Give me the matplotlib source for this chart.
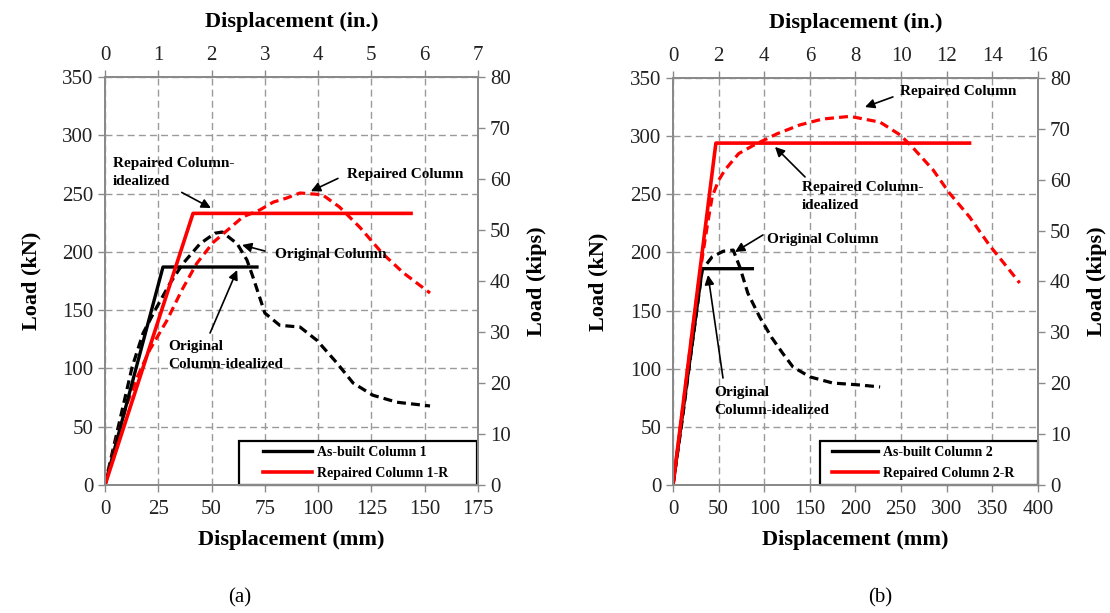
import matplotlib
matplotlib.use("Agg")
import matplotlib.pyplot as plt
from matplotlib.legend_handler import HandlerLine2D
import numpy as np

plt.rcParams['font.family'] = ['Liberation Serif', 'DejaVu Serif']

# ---- panel (a): column 1 ----
a_orig_x = [0, 2.3, 7, 12.7, 17.8, 23.5, 30.5, 36.6, 44.6, 51.6, 55, 62, 66.6, 69.5,
            75, 82, 91.5, 99.5, 108.8, 116.4, 125.7, 137, 152.5]
a_orig_y = [0, 19, 56, 101, 130, 150, 173, 190, 207, 216, 217, 207, 193, 178,
            147.5, 137, 135.5, 124, 104.7, 87.5, 77, 71, 67.8]
a_rep_x = [0, 5, 10, 15, 21, 29, 36, 43, 50.7, 57.7, 64.7, 72.7, 79, 85, 91.5, 102,
           110, 119.6, 130, 140, 152.5]
a_rep_y = [0, 36, 68, 92, 116, 141, 167, 190, 208, 219, 230, 236, 242.7, 246, 250.5, 249,
           238.5, 221, 199, 182, 164.7]
a_orig_ideal_x = [0, 27.2, 71.3]
a_orig_ideal_y = [0, 187, 187]
a_rep_ideal_x = [0, 41.3, 143.6]
a_rep_ideal_y = [0, 233, 233]

# ---- panel (b): column 2 ----
b_orig_x = [0, 10, 20, 32, 42.7, 55, 66, 73.4, 82, 95, 108, 120, 131.5, 150, 175, 205, 227]
b_orig_y = [0, 55, 115, 185, 196, 201, 202, 187, 165, 144.5, 127, 113.5, 101.5, 93,
            87.7, 86, 84.3]
b_rep_x = [0, 10, 20, 30, 38, 43, 50, 57, 72, 88, 114, 139, 164, 194, 227, 249, 263,
           285, 303, 325, 347, 366, 380]
b_rep_y = [0, 62, 125, 185, 225, 248, 262, 271, 285, 292, 302, 309.6, 314.7, 317, 312,
           301, 290, 271, 251, 230.5, 206, 187.5, 173.7]
b_orig_ideal_x = [0, 32, 87]
b_orig_ideal_y = [0, 186, 186]
b_rep_ideal_x = [0, 47, 325]
b_rep_ideal_y = [0, 294, 294]

GRID = '#9a9a9a'
SPINE = '#8a8a8a'
DASH = (0, (2.8, 1.6))


def style_axis(ax):
    for s in ax.spines.values():
        s.set_color(SPINE)
        s.set_linewidth(1.3)
    ax.tick_params(direction='out', length=5, color=SPINE, labelsize=15,
                   labelcolor='#222222', width=1)


def panel(ax, orig, rep, orig_ideal, rep_ideal, xmax, xstep, inmax, inst, labels, notes,
          leg_box, leg_pad, leg_len):
    ax.set_xlim(0, xmax)
    ax.set_ylim(0, 350)
    ax.set_xticks(np.arange(0, xmax + 1, xstep))
    ax.set_yticks(np.arange(0, 351, 50))
    ax.grid(True, color=GRID, linestyle=(0, (5, 3)), linewidth=1)
    ax.set_axisbelow(True)
    style_axis(ax)
    ax.tick_params(axis='x', pad=6)

    ax.plot(*orig, color='black', lw=2.3, linestyle=DASH)
    ax.plot(*rep, color='red', lw=2.3, linestyle=DASH)
    ax.plot(*orig_ideal, color='black', lw=2.4, label=labels[0])
    ax.plot(*rep_ideal, color='red', lw=2.6, label=labels[1])

    for txt, tpos, start, tip in notes:
        ax.text(tpos[0], tpos[1], txt, fontsize=11, fontweight='bold', ha='left',
                va='center', linespacing=1.5)
        ax.annotate('', xy=tip, xytext=start,
                    arrowprops=dict(arrowstyle='-|>', color='black', lw=1.2,
                                    mutation_scale=14, shrinkA=0, shrinkB=0))

    leg = ax.legend(loc='lower left', bbox_to_anchor=leg_box, mode='expand',
                    borderaxespad=0, fancybox=False, edgecolor='black', framealpha=1,
                    prop={'weight': 'bold', 'size': 10}, handlelength=leg_len,
                    handletextpad=0.4, labelspacing=0.6, borderpad=0.35,
                    handler_map={plt.Line2D: HandlerLine2D(xpad=leg_pad)})
    leg.get_frame().set_linewidth(1.6)

    ax.set_xlabel('Displacement (mm)', fontsize=16, fontweight='bold', labelpad=8)
    ax.set_ylabel('Load (kN)', fontsize=16, fontweight='bold', labelpad=15)

    top = ax.twiny()
    top.set_xlim(0, inmax)
    top.set_xticks(np.arange(0, inmax + 1, inst))
    style_axis(top)
    top.set_xlabel('Displacement (in.)', fontsize=16, fontweight='bold', labelpad=14)

    right = ax.twinx()
    right.set_ylim(0, 80)
    right.set_yticks(np.arange(0, 81, 10))
    style_axis(right)
    right.set_ylabel('Load (kips)', fontsize=16, fontweight='bold', labelpad=12)


fig = plt.figure(figsize=(11.1, 6.13), dpi=100)
ax1 = fig.add_axes([0.0946, 0.2088, 0.336, 0.6656])
ax2 = fig.add_axes([0.6063, 0.2088, 0.3288, 0.6640])

notes_a = [
    ('Repaired Column-\nidealized', (3.75, 268.5), (36, 251), (49.7, 237.6)),
    ('Repaired Column', (113.5, 266), (109.3, 263), (96.6, 252)),
    ('Original Column', (79.8, 198), (75, 200.7), (64.3, 205.9)),
    ('Original\nColumn-idealized', (29.6, 110.7), (49.3, 130.4), (62, 184.4)),
]
notes_b = [
    ('Repaired Column', (249, 338), (241, 333.7), (210.4, 325)),
    ('Repaired Column-\nidealized', (141.4, 248.5), (144.7, 264.9), (111.8, 290.7)),
    ('Original Column', (103, 211.5), (98.6, 215), (68, 200.4)),
    ('Original\nColumn-idealized', (45, 71.8), (54.8, 92), (38.4, 180.6)),
]

panel(ax1, (a_orig_x, a_orig_y), (a_rep_x, a_rep_y), (a_orig_ideal_x, a_orig_ideal_y),
      (a_rep_ideal_x, a_rep_ideal_y), 175, 25, 7, 1,
      ['As-built Column 1', 'Repaired Column 1-R'], notes_a, (0.359, 0.0, 0.638, 0.118),
      1.4, 4.9)
panel(ax2, (b_orig_x, b_orig_y), (b_rep_x, b_rep_y), (b_orig_ideal_x, b_orig_ideal_y),
      (b_rep_ideal_x, b_rep_ideal_y), 400, 50, 16, 2,
      ['As-built Column 2', 'Repaired Column 2-R'], notes_b, (0.403, 0.0, 0.597, 0.118),
      0.5, 3.8)

fig.text(240 / 1110, 1 - 598 / 613, '(a)', fontsize=15, ha='center', va='center')
fig.text(880 / 1110, 1 - 598 / 613, '(b)', fontsize=15, ha='center', va='center')

fig.savefig('out.png', dpi=100)
